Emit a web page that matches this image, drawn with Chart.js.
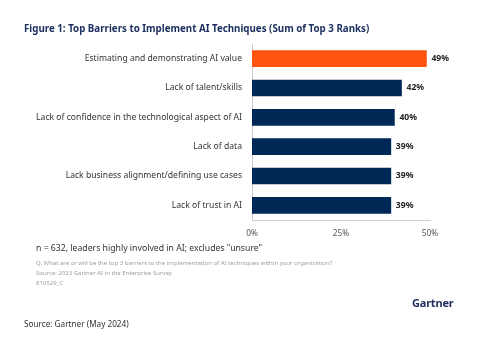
<!DOCTYPE html>
<html>
<head>
<meta charset="utf-8">
<script src="https://cdn.jsdelivr.net/npm/chart.js@4"></script>
<style>
  html, body { margin: 0; padding: 0; background: #fff; }
  #wrap { position: relative; width: 500px; height: 348px; overflow: hidden; font-family: "Noto Sans", sans-serif; }
  #chart { position: absolute; left: 0; top: 0; }
  .txt { position: absolute; white-space: nowrap; line-height: 1; }
  #title { left: 24px; top: 24px; font-size: 9.75px; font-weight: bold; color: #1d3160; }
  #note { left: 36px; top: 244px; font-size: 8.7px; color: #333; }
  .small { left: 36px; font-size: 6px; color: #a0a0a0; }
  #logo { left: 412px; top: 297px; font-size: 11px; font-weight: bold; color: #1c2c5c; letter-spacing: -0.2px; }
  #source { left: 24px; top: 320px; font-size: 8.2px; color: #333; }
</style>
</head>
<body>
<div id="wrap">
  <canvas id="chart" width="500" height="348"></canvas>
  <div class="txt" id="title">Figure 1: Top Barriers to Implement AI Techniques (Sum of Top 3 Ranks)</div>
  <div class="txt" id="note">n = 632, leaders highly involved in AI; excludes "unsure"</div>
  <div class="txt small" style="top:260px">Q. What are or will be the top 3 barriers to the implementation of AI techniques within your organization?</div>
  <div class="txt small" style="top:270px">Source: 2023 Gartner AI in the Enterprise Survey</div>
  <div class="txt small" style="top:280px">810529_C</div>
  <div class="txt" id="logo">Gartner</div>
  <div class="txt" id="source">Source: Gartner (May 2024)</div>
</div>
<script>
  const barreras = [
    "Estimating and demonstrating AI value",
    "Lack of talent/skills",
    "Lack of confidence in the technological aspect of AI",
    "Lack of data",
    "Lack business alignment/defining use cases",
    "Lack of trust in AI"
  ];
  const porcentajes = [49, 42, 40, 39, 39, 39];
  const ticksX = [0, 25, 50];
  const colores = ["#ff5410", "#002856", "#002856", "#002856", "#002856", "#002856"];

  // etiquetas de valor al final de cada barra
  const etiquetasValor = {
    id: 'etiquetasValor',
    afterDatasetsDraw(chart) {
      const ctx = chart.ctx;
      const meta = chart.getDatasetMeta(0);
      ctx.save();
      ctx.font = 'bold 8.6px "Noto Sans", sans-serif';
      ctx.fillStyle = '#222';
      ctx.textAlign = 'left';
      ctx.textBaseline = 'middle';
      meta.data.forEach((bar, i) => {
        ctx.fillText(porcentajes[i] + '%', bar.x + 5, bar.y);
      });
      ctx.restore();
    }
  };

  new Chart(document.getElementById('chart').getContext('2d'), {
    type: 'bar',
    data: {
      labels: barreras,
      datasets: [{
        data: porcentajes,
        backgroundColor: colores,
        borderWidth: 0,
        barThickness: 16
      }]
    },
    options: {
      indexAxis: 'y',
      responsive: false,
      animation: false,
      layout: { padding: { left: 0, top: 44, right: 70, bottom: 108 } },
      plugins: {
        legend: { display: false },
        tooltip: { enabled: false }
      },
      scales: {
        x: {
          min: 0,
          max: 50,
          afterFit: s => { s.height = 20; },
          afterBuildTicks: s => { s.ticks = ticksX.map(v => ({ value: v })); },
          grid: { display: false, drawTicks: false },
          border: { display: true, color: '#c9ccd0', width: 1 },
          ticks: {
            padding: 9,
            color: '#555',
            font: { size: 8.3, family: '"Noto Sans", sans-serif' },
            callback: v => v + '%'
          }
        },
        y: {
          afterFit: s => { s.width = 252; },
          grid: { display: false, drawTicks: false },
          border: { display: true, color: '#c9ccd0', width: 1 },
          ticks: {
            padding: 10,
            color: '#333',
            font: { size: 8.6, family: '"Noto Sans", sans-serif' }
          }
        }
      }
    },
    plugins: [etiquetasValor]
  });
</script>
</body>
</html>
